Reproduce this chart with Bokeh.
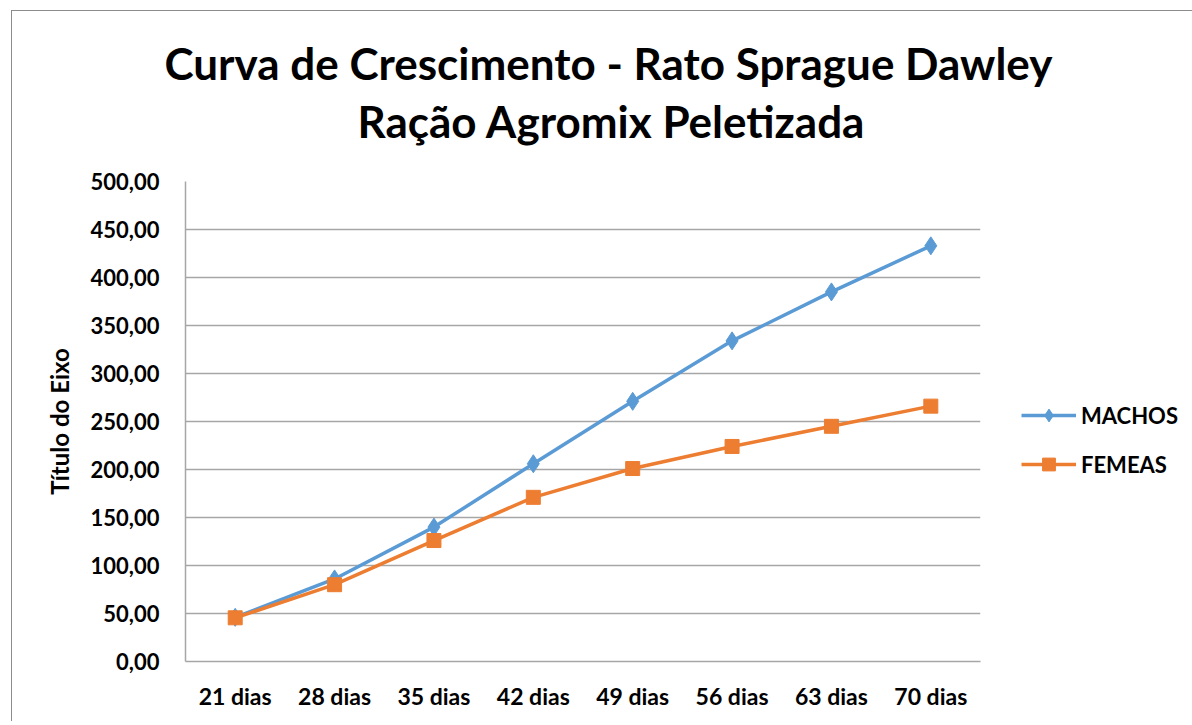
from bokeh.plotting import figure
from bokeh.models import Title, Legend, LegendItem, CustomJSTickFormatter, FixedTicker, Range1d
from bokeh.embed import file_html
from bokeh.resources import INLINE

categorias = ["21 dias", "28 dias", "35 dias", "42 dias", "49 dias", "56 dias", "63 dias", "70 dias"]
machos = [46, 86, 140, 206, 271, 334, 385, 433]
femeas = [45.5, 80, 126, 171, 201, 224, 245, 266]
y_ticks = [0, 50, 100, 150, 200, 250, 300, 350, 400, 450, 500]

FONT = "Lato"
AZUL = "#5B9BD5"
LARANJA = "#ED7D31"

p = figure(x_range=categorias, frame_width=795, frame_height=480, output_backend="svg",
           toolbar_location=None, min_border_left=173, min_border_right=205,
           min_border_top=170, min_border_bottom=60)
p.styles = {"margin-left": "11px", "margin-top": "10px",
            "border-left": "1.5px solid #8c8c8c", "border-top": "1.5px solid #8c8c8c"}
p.x_range.range_padding = 0
p.y_range = Range1d(0, 500)

espaco = Title(text=" ", text_font_size="1px", standoff=32)
l2 = Title(text="Ração Agromix Peletizada", align="left", offset=172, text_font=FONT,
           text_font_size="44px", text_font_style="bold", text_color="black", standoff=0)
l1 = Title(text="Curva de Crescimento - Rato Sprague Dawley", align="left", offset=-21, text_font=FONT,
           text_font_size="44px", text_font_style="bold", text_color="black", standoff=7)
p.add_layout(espaco, "above")
p.add_layout(l2, "above")
p.add_layout(l1, "above")

r1 = p.line(categorias, machos, line_color=AZUL, line_width=3.5)
m1 = p.scatter(categorias, machos, marker="diamond", size=18, fill_color=AZUL, line_color=AZUL)
r2 = p.line(categorias, femeas, line_color=LARANJA, line_width=3.5)
m2 = p.scatter(categorias, femeas, marker="square", size=14, fill_color=LARANJA, line_color=LARANJA)

p.yaxis.ticker = FixedTicker(ticks=y_ticks)
p.yaxis.formatter = CustomJSTickFormatter(code="return tick.toFixed(2).replace('.', ',');")
for ax in (p.xaxis[0], p.yaxis[0]):
    ax.major_label_text_font = FONT
    ax.major_label_text_font_size = "22px"
    ax.major_label_text_font_style = "bold"
    ax.major_label_text_color = "black"
    ax.major_tick_line_color = None
    ax.minor_tick_line_color = None
    ax.axis_line_color = "#a6a6a6"
    ax.axis_line_width = 1.5
p.xaxis.major_label_text_font_size = "23px"
p.yaxis.major_label_standoff = 20
p.xaxis.major_label_standoff = 14
p.yaxis.axis_label = "Título do Eixo"
p.yaxis.axis_label_text_font = FONT
p.yaxis.axis_label_text_font_size = "24px"
p.yaxis.axis_label_text_font_style = "bold"
p.yaxis.axis_label_text_color = "black"
p.yaxis.axis_label_standoff = 14

p.xgrid.grid_line_color = None
p.ygrid.grid_line_color = "#a6a6a6"
p.ygrid.grid_line_width = 1.5
p.outline_line_color = None

legend = Legend(items=[LegendItem(label="MACHOS", renderers=[r1, m1]),
                       LegendItem(label="FEMEAS", renderers=[r2, m2])],
                location=(41, 181), orientation="vertical",
                label_text_font=FONT, label_text_font_size="22px", label_text_font_style="bold",
                label_text_color="black", glyph_width=55, glyph_height=32, label_height=32,
                spacing=17, border_line_color=None, background_fill_alpha=0, padding=0, margin=0,
                label_standoff=5)
p.add_layout(legend, "right")

open("out.html", "w").write(file_html(p, INLINE))
